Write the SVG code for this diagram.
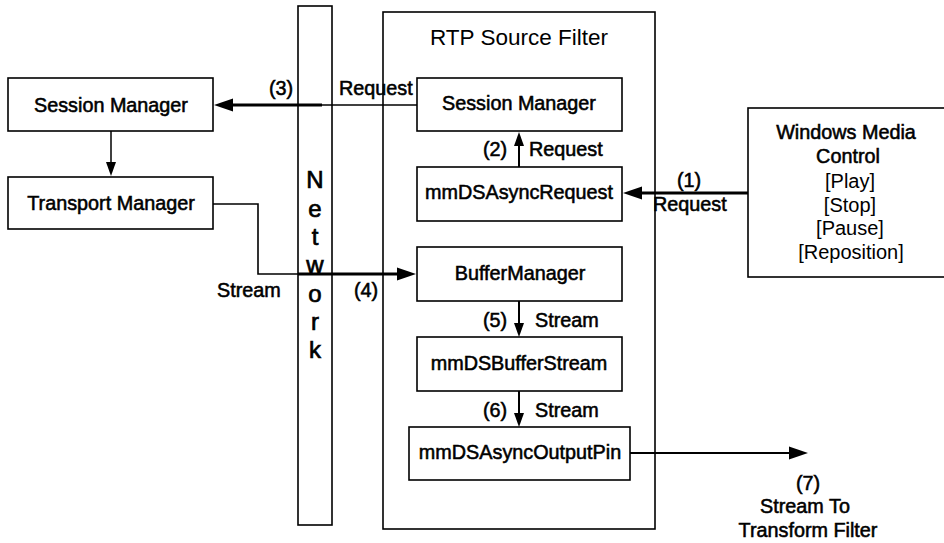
<svg xmlns="http://www.w3.org/2000/svg" width="944" height="543" viewBox="0 0 944 543">
<style>
.box{fill:#fff;stroke:#000;stroke-width:1.6}
.t{font-family:"Liberation Sans",Arial,sans-serif;font-size:19.8px;font-weight:normal;fill:#000;stroke:#000;stroke-width:0.55}
.tn{font-family:"Liberation Sans",Arial,sans-serif;font-size:20px;font-weight:normal;fill:#000}
.mid{text-anchor:middle}
.ln{fill:none;stroke:#000}
</style>
<defs>
<marker id="big" markerUnits="userSpaceOnUse" markerWidth="20" markerHeight="14" refX="1" refY="6.5" orient="auto" overflow="visible"><path d="M0,0 L19,6.5 L0,13 z" fill="#000"/></marker>
<marker id="small" markerUnits="userSpaceOnUse" markerWidth="14" markerHeight="12" refX="1" refY="5" orient="auto" overflow="visible"><path d="M0,0 L14,5 L0,10 z" fill="#000"/></marker>
</defs>
<rect width="944" height="543" fill="#fff"/>

<g id="rtp-filter">
<rect class="box" x="383" y="12" width="272" height="517"/>
<text class="tn mid" x="519" y="45" style="font-size:22.5px">RTP Source Filter</text>
</g>

<g id="network">
<rect class="box" x="298" y="6" width="34" height="519"/>
<text class="t mid" style="font-size:24px;stroke-width:0.7"><tspan x="315" y="188">N</tspan><tspan x="315" y="217">e</tspan><tspan x="315" y="245">t</tspan><tspan x="315" y="273">w</tspan><tspan x="315" y="302">o</tspan><tspan x="315" y="330">r</tspan><tspan x="315" y="358">k</tspan></text>
</g>

<g id="session-manager-left">
<rect class="box" x="8" y="78" width="205" height="53"/>
<text class="t mid" x="111" y="112">Session Manager</text>
</g>

<g id="transport-manager">
<rect class="box" x="8" y="177" width="205" height="52"/>
<text class="t mid" x="111" y="210">Transport Manager</text>
</g>

<g id="session-manager">
<rect class="box" x="417" y="78" width="205" height="53"/>
<text class="t mid" x="519" y="110">Session Manager</text>
</g>

<g id="mmDSAsyncRequest">
<rect class="box" x="417" y="167" width="205" height="54"/>
<text class="t mid" x="519" y="199">mmDSAsyncRequest</text>
</g>

<g id="buffer-manager">
<rect class="box" x="417" y="247" width="205" height="54"/>
<text class="t mid" x="520" y="280">BufferManager</text>
</g>

<g id="mmDSBufferStream">
<rect class="box" x="417" y="337" width="205" height="54"/>
<text class="t mid" x="519" y="370">mmDSBufferStream</text>
</g>

<g id="mmDSAsyncOutputPin">
<rect class="box" x="409" y="427" width="221" height="53"/>
<text class="t mid" x="520" y="459">mmDSAsyncOutputPin</text>
</g>

<g id="windows-media-control">
<rect class="box" x="748" y="108" width="202" height="169"/>
<text class="t mid" x="846" y="139">Windows Media</text>
<text class="t mid" x="848" y="163">Control</text>
<text class="tn mid" x="850" y="188">[Play]</text>
<text class="tn mid" x="850" y="212">[Stop]</text>
<text class="tn mid" x="850" y="235">[Pause]</text>
<text class="tn mid" x="851" y="259">[Reposition]</text>
</g>

<g id="connectors">
<path class="ln" d="M417,105 H322" stroke-width="1.5"/>
<path class="ln" d="M322,105 H232" stroke-width="3" marker-end="url(#big)"/>
<path class="ln" d="M111,131 V163" stroke-width="1.5" marker-end="url(#small)"/>
<path class="ln" d="M519,167 V145" stroke-width="2" marker-end="url(#small)"/>
<path class="ln" d="M748,193 H641" stroke-width="3" marker-end="url(#big)"/>
<path class="ln" d="M213,204 H258 V274 H298" stroke-width="1.6"/>
<path class="ln" d="M298,274 H398" stroke-width="3" marker-end="url(#big)"/>
<path class="ln" d="M519,301 V324" stroke-width="2" marker-end="url(#small)"/>
<path class="ln" d="M519,391 V414" stroke-width="2" marker-end="url(#small)"/>
<path class="ln" d="M630,453 H790" stroke-width="2" marker-end="url(#big)"/>
</g>

<g id="labels">
<text class="t mid" x="281" y="95">(3)</text>
<text class="t" x="339" y="95">Request</text>
<text class="t mid" x="495" y="156">(2)</text>
<text class="t" x="529" y="156">Request</text>
<text class="t mid" x="689" y="187">(1)</text>
<text class="t" x="653" y="211">Request</text>
<text class="t" x="217" y="297">Stream</text>
<text class="t mid" x="366" y="297">(4)</text>
<text class="t mid" x="495" y="327">(5)</text>
<text class="t" x="535" y="327">Stream</text>
<text class="t mid" x="495" y="417">(6)</text>
<text class="t" x="535" y="417">Stream</text>
<text class="t mid" x="808" y="490">(7)</text>
<text class="t mid" x="805" y="513">Stream To</text>
<text class="t mid" x="808" y="537">Transform Filter</text>
</g>
</svg>
